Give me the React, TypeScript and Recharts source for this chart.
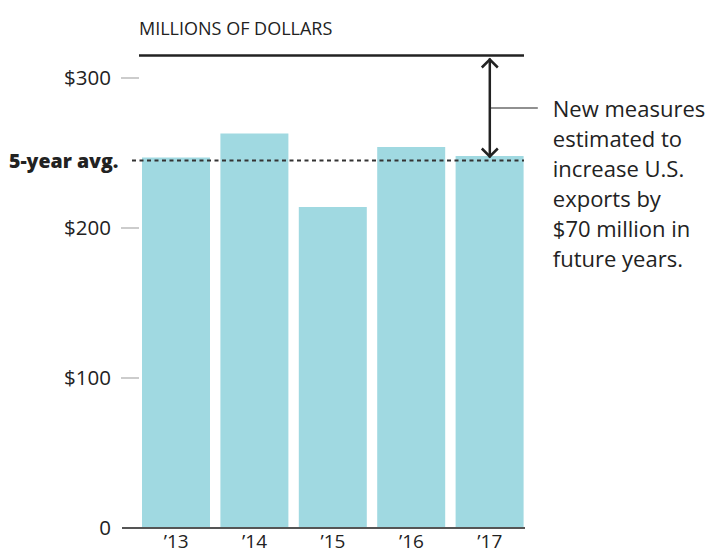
import { BarChart, Bar, XAxis, YAxis, ReferenceLine } from 'recharts'

const YEARS = ['’13', '’14', '’15', '’16', '’17']
const EXPORTS = [247, 263, 214, 254, 248]
const Y_TICKS = [0, 100, 200, 300]
const AVG = 245
const INCREASE = 70
const NOTE_LINES = [
  'New measures',
  'estimated to',
  'increase U.S.',
  'exports by',
  '$70 million in',
  'future years.',
]

const FONT = '"Open Sans", Lato, sans-serif'
const INK = '#222'

const data = YEARS.map((year, i) => ({ year, value: EXPORTS[i] }))

function formatDollars(v: number): string {
  return v === 0 ? '0' : `$${v}`
}

function YTick({ x, y, payload }: any) {
  return (
    <g>
      <text x={x} y={y} dy="0.36em" textAnchor="end" fontSize={20.5} fill={INK} fontFamily={FONT}>
        {formatDollars(payload.value)}
      </text>
      {payload.value !== 0 && (
        <line x1={x + 10} x2={x + 28} y1={y} y2={y} stroke="#aaa" strokeWidth={1.2} />
      )}
    </g>
  )
}

// year labels sit just under the baseline, kept inside the frame
function XTick({ x, y, payload }: any) {
  return (
    <text x={x} y={y} dy={16} textAnchor="middle" fontSize={19} fill={INK} fontFamily={FONT}>
      {payload.value}
    </text>
  )
}

function span(p: any) {
  return { left: Math.min(p.x1, p.x2), right: Math.max(p.x1, p.x2), y: p.y1 }
}

function BaseLine(p: any) {
  const { left, right, y } = span(p)
  return <line x1={left} x2={right - 4} y1={y} y2={y} stroke="#555" strokeWidth={2} />
}

function AvgLine(p: any) {
  const { left, right, y } = span(p)
  return (
    <g>
      <line x1={left + 10} x2={right - 5} y1={y} y2={y} stroke="#333" strokeWidth={2} strokeDasharray="4 3.5" />
      <text x={9} y={y} dy="0.36em" fontSize={19.5} fontWeight={800} fill={INK} fontFamily={FONT}>
        5-year avg.
      </text>
    </g>
  )
}

function TopLine(p: any) {
  const { left, right, y } = span(p)
  return (
    <g>
      <line x1={left + 17} x2={right - 5} y1={y} y2={y} stroke={INK} strokeWidth={2.5} />
      <text x={left + 17} y={35} fontSize={18} fill={INK} fontFamily={FONT}>
        MILLIONS OF DOLLARS
      </text>
    </g>
  )
}

function ArrowNote(p: any) {
  const x = p.x1
  const top = Math.min(p.y1, p.y2) + 3
  const bottom = Math.max(p.y1, p.y2) - 3
  const mid = (top + bottom) / 2
  return (
    <g fill="none" stroke={INK}>
      <line x1={x} x2={x} y1={top} y2={bottom} strokeWidth={2.5} />
      <polyline points={`${x - 8},${top + 9} ${x},${top + 1} ${x + 8},${top + 9}`} strokeWidth={2.5} />
      <polyline points={`${x - 8},${bottom - 9} ${x},${bottom - 1} ${x + 8},${bottom - 9}`} strokeWidth={2.5} />
      <line x1={x} x2={x + 48} y1={mid} y2={mid} strokeWidth={1.2} />
      <text x={x + 63} y={mid} fontSize={22} fill={INK} stroke="none" fontFamily={FONT}>
        {NOTE_LINES.map((line, i) => (
          <tspan key={i} x={x + 63} dy={i === 0 ? '0.42em' : 30}>
            {line}
          </tspan>
        ))}
      </text>
    </g>
  )
}

export default function App() {
  return (
    <div style={{ position: 'absolute', left: 0, top: 0, background: '#fff' }}>
      <BarChart
        width={711}
        height={558}
        data={data}
        margin={{ top: 48, right: 182, bottom: 0, left: 0 }}
      >
        <XAxis
          dataKey="year"
          interval={0}
          padding={{ left: 15, right: 0 }}
          axisLine={false}
          tickLine={false}
          tickSize={0}
          tickMargin={4}
          height={30}
          tick={<XTick />}
        />
        <YAxis
          width={122}
          domain={[0, 320]}
          ticks={Y_TICKS}
          interval={0}
          axisLine={false}
          tickLine={false}
          tickSize={0}
          tickMargin={11}
          tick={<YTick />}
        />
        <Bar dataKey="value" fill="#a0d9e1" barSize={68} isAnimationActive={false} />
        <ReferenceLine y={0} shape={BaseLine} />
        <ReferenceLine y={AVG} shape={AvgLine} />
        <ReferenceLine y={AVG + INCREASE} shape={TopLine} />
        <ReferenceLine
          segment={[
            { x: YEARS[4], y: AVG },
            { x: YEARS[4], y: AVG + INCREASE },
          ]}
          shape={ArrowNote}
        />
      </BarChart>
    </div>
  )
}
